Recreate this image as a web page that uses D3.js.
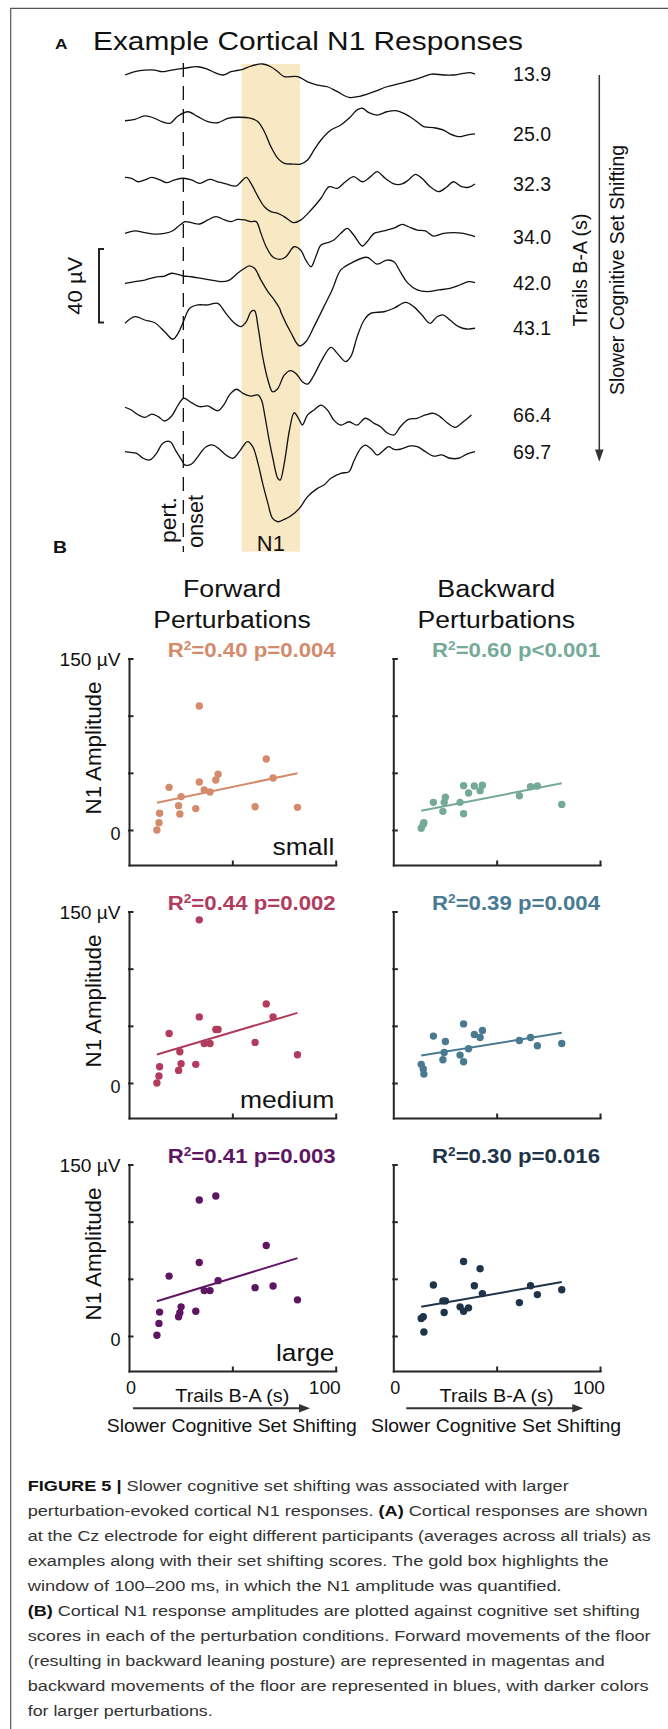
<!DOCTYPE html>
<html>
<head>
<meta charset="utf-8">
<script src="https://cdn.jsdelivr.net/npm/d3@7"></script>
<style>
  body { margin: 0; background: #fff; }
  svg { display: block; font-family: "Liberation Sans", Arial, Helvetica, sans-serif; }
</style>
</head>
<body>
<script>
// ---- Panel A: example cortical responses (time ms, amplitude µV) ----
const trailsScores = ["13.9", "25.0", "32.3", "34.0", "42.0", "43.1", "66.4", "69.7"];

const trace139 = [[-100,-1.8],[-83,0],[-66,0.9],[-49,0.9],[-37,0],[-20,0.9],[0,1.8],[25,2.7],[42,1.3],[54,-0.5],[68,-1.8],[82,0],[102,1.3],[116,3.1],[136,4.2],[150,2.7],[162,0],[173,-2.7],[196,-2.7],[213,-5.5],[230,-7.3],[247,-8.2],[264,-10.9],[284,-14.0],[304,-13.3],[327,-10.9],[349,-8.2],[372,-6.4],[395,-4.5],[412,-2.7],[426,-1.3],[446,-1.8],[463,-1.8],[480,-0.9],[492,-0.5],[500,-1.3]];
const trace250 = [[-100,-0.4],[-83,0.4],[-66,2.2],[-49,0.9],[-37,-0.9],[-23,-1.8],[-9,2.2],[8,4.5],[25,1.8],[42,-0.9],[59,-1.5],[76,0.9],[93,1.5],[116,0.9],[128,-0.9],[139,-6.4],[150,-14.5],[162,-20.9],[173,-23.6],[187,-24.0],[201,-24.0],[213,-21.8],[224,-16.4],[236,-10.9],[253,-5.5],[270,-2.7],[284,0.9],[298,5.5],[307,6.4],[318,4.0],[332,2.7],[349,4.5],[364,5.1],[378,3.6],[395,0.4],[412,-3.6],[429,-4.2],[446,-5.5],[457,-7.6],[472,-9.1],[486,-8.2],[500,-7.6]];
const trace323 = [[-100,0.9],[-89,0.4],[-77,-1.5],[-66,-0.5],[-54,0.9],[-40,-0.5],[-29,-2.0],[-15,-0.5],[0,0.4],[14,-0.5],[28,-2.4],[45,-0.2],[59,-1.5],[73,-2.7],[91,-3.8],[99,-1.5],[108,0.9],[116,-2.4],[128,-9.6],[139,-15.1],[150,-17.8],[162,-18.7],[173,-20.5],[189,-23.8],[201,-22.4],[219,-16.9],[236,-10.5],[250,-4.2],[264,-5.1],[278,-1.5],[292,1.3],[307,-1.5],[321,1.3],[332,4.0],[346,0.4],[361,-2.7],[375,-2.7],[386,-0.5],[398,2.5],[409,0.4],[423,-4.2],[438,-6.9],[452,-4.2],[463,-1.5],[477,-4.2],[489,-4.5],[500,-2.7]];
const trace340 = [[-100,-0.9],[-83,0.5],[-66,-0.5],[-49,-1.3],[-32,-0.9],[-18,0.5],[-6,3.6],[3,5.5],[14,4.9],[28,4.2],[42,6.4],[56,8.2],[71,6.4],[82,5.5],[93,6.7],[105,6.4],[116,5.5],[125,5.5],[133,-0.9],[142,-8.2],[153,-13.6],[165,-15.1],[176,-13.6],[190,-8.2],[201,-10.0],[210,-15.5],[219,-19.1],[227,-13.6],[236,-7.3],[247,-6.0],[258,-4.5],[270,-0.9],[281,1.8],[292,-1.8],[307,-7.8],[315,-5.5],[327,-0.9],[338,0],[349,0.9],[364,2.4],[375,4.0],[386,2.7],[401,0.9],[415,0.4],[429,-2.4],[446,-0.9],[463,-0.5],[480,-0.9],[500,-2.7]];
const trace420 = [[-100,-0.9],[-83,0],[-66,0.9],[-49,2.4],[-32,3.1],[-20,4.6],[0,3.1],[14,2.7],[31,1.8],[48,0.9],[65,0],[79,0.9],[93,4.6],[105,7.3],[113,8.6],[122,7.3],[133,0.9],[145,-5.4],[156,-10],[165,-14.5],[168,-17.2],[185,-28.1],[199,-35.0],[210,-32.7],[224,-24.5],[241,-13.6],[255,-4.5],[270,6.4],[287,10.0],[315,13.3],[332,9.6],[349,11.8],[361,10.9],[372,5.4],[384,-0.5],[401,-4.5],[418,-5.4],[438,-4.5],[457,-3.6],[474,-1.8],[489,0],[500,-0.5]];
const trace431 = [[-100,-1.8],[-83,1.8],[-66,0],[-49,-1.5],[-32,-6.4],[-18,-10.5],[-9,-7.3],[0,-0.9],[11,6.4],[25,8.2],[42,8.2],[59,9.1],[73,3.6],[88,-1.8],[99,-3.6],[108,-0.9],[116,4.5],[122,5.1],[128,-3.6],[136,-20.0],[145,-32.7],[153,-39.1],[162,-37.3],[173,-30.0],[184,-27.6],[193,-29.1],[204,-33.6],[213,-34.9],[224,-30.0],[236,-22.7],[253,-14.9],[264,-18.2],[278,-22.7],[287,-20.0],[298,-9.1],[310,0],[321,3.6],[344,4.5],[361,6.4],[381,9.6],[395,7.3],[409,2.7],[423,-1.8],[435,1.8],[446,2.7],[457,0],[472,-3.6],[486,-4.9],[500,-4.5]];
const trace664 = [[-100,1.5],[-89,0],[-77,-2.7],[-66,-4.0],[-54,-2.2],[-43,-3.6],[-32,-6.0],[-20,-3.3],[-9,2.7],[1,6.4],[14,4.0],[28,1.8],[42,2.2],[59,-0.4],[71,3.6],[79,8.2],[91,11.3],[102,9.1],[116,7.6],[128,8.2],[134,5.5],[140,-3.6],[146,-14.5],[153,-25.5],[162,-37.3],[166,-38.2],[173,-29.1],[182,-10.9],[190,-1.5],[199,-5.5],[204,-8.2],[213,-2.7],[224,0],[236,2.7],[247,0],[258,-5.5],[270,-8.2],[284,-6.4],[298,-8.2],[312,-4.5],[327,-7.3],[338,-9.1],[349,-12.4],[361,-13.6],[372,-9.1],[386,-5.1],[401,-4.5],[415,-2.7],[429,-1.8],[440,-3.6],[452,-6.9],[466,-9.5],[480,-6.4],[494,-2.7]];
const trace697 = [[-100,0.9],[-91,0.5],[-80,0],[-69,-2.7],[-57,-3.6],[-46,0],[-35,5.5],[-23,6.4],[-12,0.9],[-3,-3.6],[3,-6.4],[14,-5.8],[25,-1.8],[39,3.6],[51,4.5],[62,2.2],[73,-0.9],[85,-2.7],[96,0.9],[110,6.4],[119,3.6],[128,-5.5],[136,-16.4],[145,-27.3],[153,-35.5],[162,-37.3],[173,-36.0],[184,-34.2],[199,-30.0],[213,-23.6],[230,-19.1],[241,-17.3],[253,-13.6],[270,-10.9],[284,-10.0],[292,-4.5],[304,2.7],[312,4.5],[324,1.8],[332,-0.9],[344,1.8],[352,3.6],[361,2.2],[372,2.2],[389,4.0],[401,3.6],[415,0.9],[429,-1.5],[443,-0.9],[457,-2.7],[472,-2.7],[486,-0.4],[500,0.9]];

const n1Window = [100, 200];   // ms
const scaleBarUV = 40;

// ---- Panel B: N1 amplitude vs Trails B-A ----
const trailsBA = [13.5, 14.5, 14.8, 19.4, 24.0, 24.6, 25.2, 32.3, 34.0, 34.0, 36.4, 39.2, 42.0, 43.1, 61.0, 66.4, 69.7, 81.5];

const fwdSmall  = [0, 6.4, 14.6, 37.3, 21.3, 14.0, 29.2, 18.7, 108.5, 42.0, 35.0, 33.2, 43.7, 48.7, 20.4, 62.1, 45.5, 19.8];
const fwdMedium = [0, 6.1, 14.2, 43.3, 11.0, 27.3, 16.9, 16.3, 142.7, 57.8, 34.6, 34.6, 46.8, 46.8, 35.5, 69.2, 57.8, 24.7];
const fwdLarge  = [0.6, 11.0, 20.9, 52.4, 16.8, 20.3, 25.5, 21.7, 119.0, 64.3, 39.7, 39.7, 122.5, 48.4, 42.3, 79.1, 43.7, 31.6];
const bwdSmall  = [1.5, 5.0, 6.4, 24.2, 16.3, 24.2, 28.6, 24.2, 38.8, 14.3, 32.4, 38.5, 34.4, 39.1, 30.0, 37.9, 38.5, 22.4];
const bwdMedium = [16.3, 12.2, 7.8, 41.0, 20.3, 26.7, 36.3, 24.4, 51.7, 18.6, 29.9, 42.4, 39.8, 45.9, 37.2, 39.8, 32.6, 34.6];
const bwdLarge  = [15.3, 16.8, 3.5, 44.6, 30.7, 20.6, 30.7, 25.5, 65.2, 21.7, 24.6, 44.0, 58.8, 37.1, 29.2, 44.0, 36.2, 40.5];

// fitted line values at the ends of the x range
const fitRange = [13.5, 81.5];
const fwdFits = [[23.9, 49.6], [25.0, 61.3], [30.4, 68.1]];
const bwdFits = [[16.9, 40.8], [24.1, 43.9], [25.5, 47.2]];

const sizes = ["small", "medium", "large"];
const fwdR2 = ["0.40", "0.44", "0.41"];
const fwdP  = ["=0.004", "=0.002", "=0.003"];
const bwdR2 = ["0.60", "0.39", "0.30"];
const bwdP  = ["<0.001", "=0.004", "=0.016"];

const yTicks = [0, 50, 100, 150];
const xTicks = [0, 100];

const captionLines = [
  [["FIGURE 5 | ", true], ["Slower cognitive set shifting was associated with larger", false]],
  [["perturbation-evoked cortical N1 responses. ", false], ["(A)", true], [" Cortical responses are shown", false]],
  [["at the Cz electrode for eight different participants (averages across all trials) as", false]],
  [["examples along with their set shifting scores. The gold box highlights the", false]],
  [["window of 100\u2013200 ms, in which the N1 amplitude was quantified.", false]],
  [["(B)", true], [" Cortical N1 response amplitudes are plotted against cognitive set shifting", false]],
  [["scores in each of the perturbation conditions. Forward movements of the floor", false]],
  [["(resulting in backward leaning posture) are represented in magentas and", false]],
  [["backward movements of the floor are represented in blues, with darker colors", false]],
  [["for larger perturbations.", false]]
];

// ---- layout ----
const W = 668, H = 1729;
const traces = [trace139, trace250, trace323, trace340, trace420, trace431, trace664, trace697];
const traceBase = [71.7, 120, 179, 231.7, 281.7, 320, 410, 453.3];
const fwdColors = ["#d48b6c", "#b13c5d", "#5f1662"];
const bwdColors = ["#76aa98", "#4a7a91", "#1e3448"];
const rowZero = [830, 1083, 1336];
const colX0 = [129, 393.3];
const plotW = 206.7, plotH = 171.5, axisDrop = 35;
const captionWidths = [541, 620, 623, 581, 534, 612, 623, 577, 621, 185];

const svg = d3.select("body").append("svg")
  .attr("width", W)
  .attr("height", H);

function label(g, x, y, str, o = {}) {
  const t = g.append("text")
    .attr("transform", `translate(${x},${y})` + (o.rotate ? ` rotate(${o.rotate})` : ""))
    .attr("font-size", o.size || 18)
    .attr("text-anchor", o.anchor || "start")
    .attr("fill", o.fill || "#111")
    .text(str);
  if (o.bold) t.attr("font-weight", "bold");
  if (o.dy) t.attr("dy", o.dy);
  if (o.width) t.attr("textLength", o.width).attr("lengthAdjust", "spacingAndGlyphs");
  return t;
}

// frame
svg.append("path")
  .attr("d", `M10.7,${H}V8.3H${W}`)
  .attr("fill", "none")
  .attr("stroke", "#555")
  .attr("stroke-width", 1.2);

// ===== Panel A =====
const tx = d3.scaleLinear().domain([-100, 500]).range([125, 475]);
const uv = d3.scaleLinear().domain([0, 40]).range([0, -73.4]);

label(svg, 55, 48.5, "A", { size: 15, bold: true, width: 12.5 });
label(svg, 93, 49.5, "Example Cortical N1 Responses", { size: 26, width: 430 });

// N1 window
svg.append("rect")
  .attr("x", tx(n1Window[0]))
  .attr("y", 64)
  .attr("width", tx(n1Window[1]) - tx(n1Window[0]))
  .attr("height", 551.7 - 64)
  .attr("fill", "#f9e8c4");

// perturbation onset
svg.append("line")
  .attr("x1", tx(0)).attr("x2", tx(0))
  .attr("y1", 63).attr("y2", 552)
  .attr("stroke", "#111")
  .attr("stroke-width", 1.3)
  .attr("stroke-dasharray", "14,9");

const traceLine = d3.line()
  .x(d => tx(d[0]))
  .y(d => uv(d[1]))
  .curve(d3.curveCatmullRom.alpha(0.5));

traces.forEach((tr, i) => {
  const g = svg.append("g").attr("transform", `translate(0,${traceBase[i]})`);
  g.append("path")
    .attr("d", traceLine(tr))
    .attr("fill", "none")
    .attr("stroke", "#111")
    .attr("stroke-width", 1.3);
  const last = tr[tr.length - 1];
  label(g, 551, uv(last[1]) + 7, trailsScores[i], { size: 19.5, anchor: "end" });
});

// 40 µV scale bar
const sb = svg.append("g").attr("transform", "translate(99,249)");
sb.append("path")
  .attr("d", `M5,0H0V${-uv(scaleBarUV)}H5`)
  .attr("fill", "none")
  .attr("stroke", "#222")
  .attr("stroke-width", 2);
label(svg, 74.5, 249 - uv(scaleBarUV) / 2, "40 \u00b5V", { size: 21, rotate: -90, anchor: "middle", dy: "0.35em", width: 58 });

// right arrow + labels
svg.append("line")
  .attr("x1", 599.3).attr("x2", 599.3)
  .attr("y1", 75).attr("y2", 452)
  .attr("stroke", "#333")
  .attr("stroke-width", 1.5);
svg.append("path")
  .attr("d", "M599.3,461.7L595,449.5L603.6,449.5Z")
  .attr("fill", "#333");
label(svg, 580, 270, "Trails B-A (s)", { size: 19.5, rotate: -90, anchor: "middle", dy: "0.35em", width: 113 });
label(svg, 616.7, 270, "Slower Cognitive Set Shifting", { size: 19.5, rotate: -90, anchor: "middle", dy: "0.35em", width: 250 });

label(svg, 168.3, 520, "pert.", { size: 21.5, rotate: -90, anchor: "middle", dy: "0.35em", width: 46 });
label(svg, 195, 521.5, "onset", { size: 21.5, rotate: -90, anchor: "middle", dy: "0.35em", width: 53 });
label(svg, (tx(n1Window[0]) + tx(n1Window[1])) / 2, 551, "N1", { size: 22, anchor: "middle", width: 28 });

// ===== Panel B =====
label(svg, 53, 552.7, "B", { size: 17, bold: true, width: 14 });

[["Forward", 98], ["Backward", 118]].forEach(([name, w], c) => {
  const cx = colX0[c] + 103;
  label(svg, cx, 596.7, name, { size: 23.5, anchor: "middle", width: w });
  label(svg, cx, 628.3, "Perturbations", { size: 23.5, anchor: "middle", width: 157.6 });
});

const fwdSets = [fwdSmall, fwdMedium, fwdLarge];
const bwdSets = [bwdSmall, bwdMedium, bwdLarge];

sizes.forEach((sz, r) => {
  const zero = rowZero[r];
  [0, 1].forEach(c => {
    const x0 = colX0[c];
    const vals = c === 0 ? fwdSets[r] : bwdSets[r];
    const fit = c === 0 ? fwdFits[r] : bwdFits[r];
    const color = c === 0 ? fwdColors[r] : bwdColors[r];
    const r2 = c === 0 ? fwdR2[r] : bwdR2[r];
    const p = c === 0 ? fwdP[r] : bwdP[r];

    const x = d3.scaleLinear().domain([0, 100]).range([x0, x0 + plotW]);
    const yMin = -axisDrop * 150 / plotH;
    const y = d3.scaleLinear().domain([yMin, 150]).range([zero + axisDrop, zero - plotH]);

    const g = svg.append("g");

    const ya = g.append("g")
      .attr("transform", `translate(${x0},0)`)
      .call(d3.axisLeft(y).tickValues(yTicks).tickSize(-3.5).tickSizeOuter(0).tickFormat(""));
    const xa = g.append("g")
      .attr("transform", `translate(0,${zero + axisDrop})`)
      .call(d3.axisBottom(x).tickValues([50, 100]).tickSize(-3.5).tickSizeOuter(0).tickFormat(""));
    [ya, xa].forEach(a => {
      a.selectAll("path, line")
        .attr("stroke", "#262626")
        .attr("stroke-width", 2)
        .attr("stroke-linecap", "square");
    });

    // fit line
    g.append("line")
      .attr("x1", x(fitRange[0])).attr("y1", y(fit[0]))
      .attr("x2", x(fitRange[1])).attr("y2", y(fit[1]))
      .attr("stroke", color)
      .attr("stroke-width", 2);

    // points
    g.selectAll("circle")
      .data(vals)
      .join("circle")
      .attr("cx", (d, i) => x(trailsBA[i]))
      .attr("cy", d => y(d))
      .attr("r", 3.7)
      .attr("fill", color);

    // stats
    const st = g.append("text")
      .attr("x", x0 + plotW)
      .attr("y", zero - plotH - 1.8)
      .attr("text-anchor", "end")
      .attr("font-size", 19.5)
      .attr("font-weight", "bold")
      .attr("fill", color)
      .attr("textLength", 168)
      .attr("lengthAdjust", "spacingAndGlyphs");
    st.append("tspan").text("R");
    st.append("tspan").attr("font-size", 12).attr("dy", -7).text("2");
    st.append("tspan").attr("dy", 7).text(`=${r2} p${p}`);

    if (c === 0) {
      label(g, 120.6, y(150) + 7, "150 \u00b5V", { size: 18, anchor: "end", width: 61 });
      label(g, 120.6, y(0) + 10, "0", { size: 18, anchor: "end" });
      label(g, 93.7, zero - 82, "N1 Amplitude", { size: 22, rotate: -90, anchor: "middle", dy: "0.35em", width: 133 });
      const sw = { small: 61.7, medium: 94.3, large: 58.3 }[sz];
      label(g, x0 + plotW - 1.4, zero + 25, sz, { size: 24.5, anchor: "end", width: sw });
    }

    if (r === 2) {
      label(g, x(xTicks[0]) + 2, zero + axisDrop + 23, String(xTicks[0]), { size: 18, anchor: "middle" });
      label(g, x(xTicks[1]) - 11, zero + axisDrop + 23, String(xTicks[1]), { size: 18, anchor: "middle", width: 32 });
      label(g, x0 + 103.3, 1402, "Trails B-A (s)", { size: 19, anchor: "middle", width: 114 });
      const a0 = x0 + (c === 0 ? 4 : 13), a1 = a0 + 177;
      g.append("line")
        .attr("x1", a0).attr("x2", a1 - 8)
        .attr("y1", 1408.3).attr("y2", 1408.3)
        .attr("stroke", "#333")
        .attr("stroke-width", 2);
      g.append("path")
        .attr("d", `M${a1},1408.3L${a1 - 11},1404L${a1 - 11},1412.6Z`)
        .attr("fill", "#333");
      label(g, x0 + 102.8, 1431.7, "Slower Cognitive Set Shifting", { size: 19, anchor: "middle", width: 250 });
    }
  });
});

// ===== caption =====
captionLines.forEach((parts, i) => {
  const t = svg.append("text")
    .attr("x", 27.7)
    .attr("y", 1490.7 + 25 * i)
    .attr("font-size", 15.5)
    .attr("fill", "#333")
    .attr("textLength", captionWidths[i])
    .attr("lengthAdjust", "spacingAndGlyphs");
  parts.forEach(([s, b]) => {
    t.append("tspan")
      .attr("font-weight", b ? "bold" : null)
      .attr("fill", b ? "#111" : null)
      .text(s);
  });
});
</script>
</body>
</html>
